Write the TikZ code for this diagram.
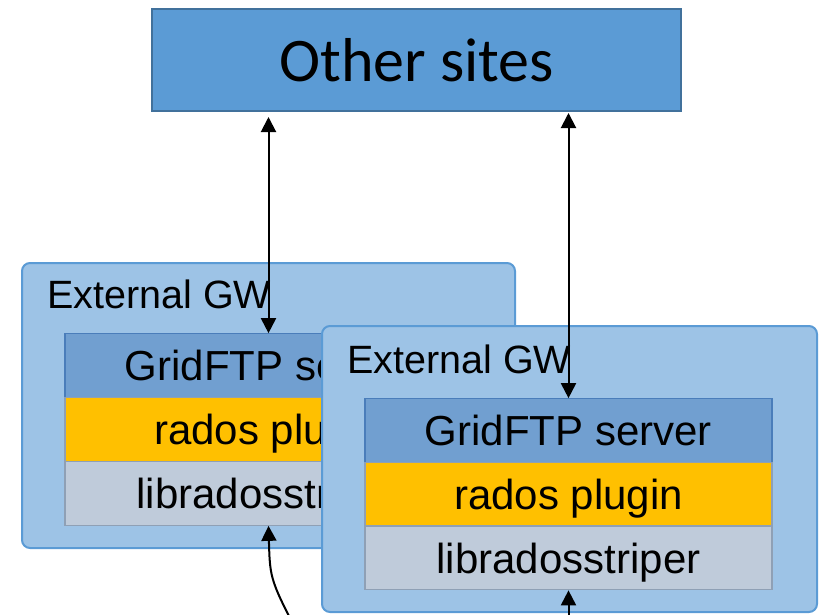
\documentclass[tikz,border=0pt]{standalone}
\usepackage{fontspec}
\setmainfont{Liberation Sans}
\newfontfamily\calibri{Carlito}
\usetikzlibrary{arrows.meta}
\definecolor{topfill}{HTML}{5B9BD5}
\definecolor{topdraw}{HTML}{41719C}
\definecolor{gwfill}{HTML}{9DC3E6}
\definecolor{gwdraw}{HTML}{5B9BD5}
\definecolor{gffill}{HTML}{719FD0}
\definecolor{gfdraw}{HTML}{4A7DBA}
\definecolor{rpfill}{HTML}{FFC000}
\definecolor{lbfill}{HTML}{BFCBDA}
\definecolor{rowdraw}{HTML}{8FA0B5}
\tikzset{
  gwbox/.style={draw=gwdraw, fill=gwfill, line width=2pt, rounded corners=8pt,
    minimum width=493pt, minimum height=285pt, inner sep=0pt},
  rowbox/.style={line width=1.2pt, minimum width=407pt, minimum height=63.5pt,
    inner sep=0pt, text height=36pt, text depth=5.5pt, font=\fontsize{42}{48}\selectfont},
  gwlabel/.style={anchor=base west, inner sep=0pt, font=\fontsize{39.5}{44}\selectfont},
  conn/.style={line width=2pt, {Triangle[length=15pt,width=15pt]}-{Triangle[length=15pt,width=15pt]}},
  connone/.style={line width=2pt, -{Triangle[length=15pt,width=15pt]}}
}
\begin{document}
\begin{tikzpicture}[x=1pt,y=-1pt]
\useasboundingbox (0,0) rectangle (819,614);
\clip (0,0) rectangle (819,614);
% top box
\node[draw=topdraw, fill=topfill, line width=2pt, minimum width=529pt, minimum height=102pt,
  inner sep=0pt, font=\calibri\fontsize{62}{70}\selectfont] (other) at (416.5,60) {Other sites};
% left gateway
\node[gwbox] (gwL) at (268.5,405.5) {};
\node[gwlabel] (gwLt) at (47,308) {External GW};
\node[rowbox, draw=gfdraw, fill=gffill] (gfL) at (268.5,365.5) {GridFTP server};
\node[rowbox, draw=rowdraw, fill=rpfill] (rpL) at (268.5,429.5) {rados plugin};
\node[rowbox, draw=rowdraw, fill=lbfill] (lbL) at (268.5,493.5) {libradosstriper};
% right gateway
\node[gwbox, minimum width=495pt, minimum height=286pt] (gwR) at (569.5,469) {};
\node[gwlabel] (gwRt) at (347,373) {External GW};
\node[rowbox, draw=gfdraw, fill=gffill] (gfR) at (568.5,430.5) {GridFTP server};
\node[rowbox, draw=rowdraw, fill=rpfill] (rpR) at (568.5,494) {rados plugin};
\node[rowbox, draw=rowdraw, fill=lbfill] (lbR) at (568.5,558) {libradosstriper};
% connectors
\draw[conn] (gfL.north |- other.south) ++(0,5) coordinate (aLt) -- (gfL.north);
\draw[conn] (gfR.north |- other.south) ++(0,1) coordinate (aRt) -- (gfR.north);
\coordinate (cs) at (304,645);
\draw[connone] (cs) .. controls (270,580) .. (lbL.south);
\coordinate (cr) at (568.5,640);
\draw[connone] (cr) -- (lbR.south);
\end{tikzpicture}
\end{document}
